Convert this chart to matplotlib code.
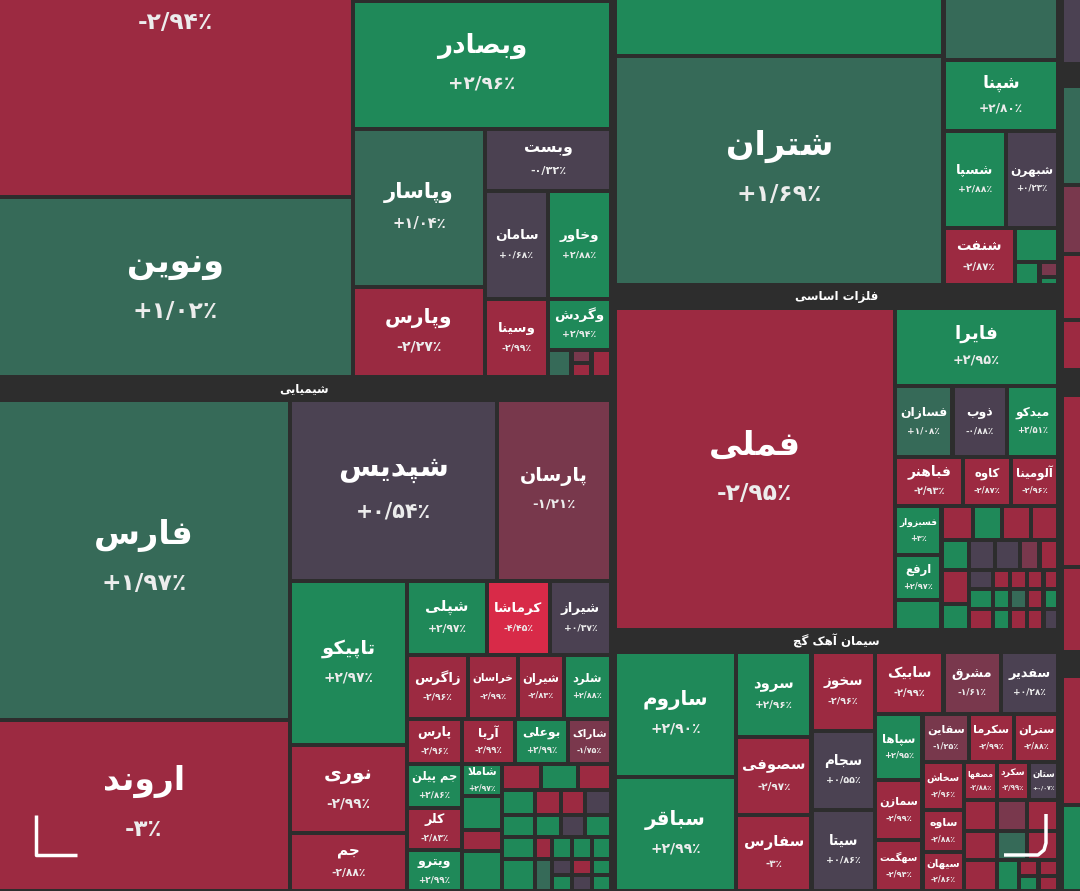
import matplotlib
matplotlib.use("Agg")
import matplotlib.pyplot as plt
from matplotlib.colors import LinearSegmentedColormap, Normalize
from matplotlib.patches import Rectangle

plt.rcParams['font.family'] = ['DejaVu Sans']

# ticker names and daily change (%)
tickers = ['(top)', 'ونوین', 'وبصادر', 'وپاسار', 'وپارس', 'وبست', 'سامان', 'وسینا',
           'وخاور', 'وگردش',
           'فارس', 'اروند', 'شپدیس', 'پارسان', 'تاپیکو', 'نوری', 'جم',
           'شپلی', 'کرماشا', 'شیراز', 'زاگرس', 'خراسان', 'شیران', 'شلرد',
           'پارس', 'آریا', 'بوعلی', 'شاراک', 'جم پیلن', 'کلر', 'ویترو', 'شاملا',
           'شتران', 'شپنا', 'شسپا', 'شبهرن', 'شنفت',
           'فملی', 'فایرا', 'فسازان', 'ذوب', 'میدکو', 'فباهنر', 'کاوه', 'آلومینا',
           'فسبزوار', 'ارفع',
           'ساروم', 'سباقر', 'سرود', 'سصوفی', 'سفارس', 'سخوز', 'سجام', 'سیتا',
           'سابیک', 'مشرق', 'سفدیر', 'سپاها', 'سمازن', 'سهگمت', 'سقاین', 'سکرما',
           'ستران', 'سخاش', 'ساوه', 'سیهان', 'مصفها', 'سکرد', 'ستان']
changes = [-2.94, 1.02, 2.96, 1.04, -2.27, -0.32, 0.68, -2.99,
           2.88, 2.94,
           1.97, -3.0, 0.54, -1.21, 2.97, -2.99, -2.88,
           2.97, -4.45, 0.37, -2.96, -2.99, -2.83, 2.88,
           -2.96, -2.99, 2.99, -1.75, 2.86, -2.83, 2.99, 2.97,
           1.69, 2.80, 2.88, 0.23, -2.87,
           -2.95, 2.95, 1.08, -0.88, 2.51, -2.93, -2.87, -2.96,
           3.0, 2.97,
           2.90, 2.99, 2.96, -2.97, -3.0, -2.96, 0.55, 0.86,
           -2.99, -1.61, 0.28, 2.95, -2.99, -2.94, -1.25, -2.99,
           -2.88, -2.96, -2.88, -2.86, -2.88, -2.99, 0.07]
change_of = dict(zip(tickers, changes))

# unlabeled small cells: representative change per colour code
filler = {'r': -2.9, 'g': 2.9, 'k': 0.3, 'm': -1.5, 'd': 1.5}

# colour scale (change % -> colour)
stops = [(-5.0, '#e8254c'), (-4.4, '#d62a48'), (-3.0, '#9c2a41'), (-2.1, '#9a2a41'),
         (-1.9, '#7a384d'), (-1.1, '#78384c'), (-0.95, '#4b4051'), (0.9, '#4b4252'),
         (1.0, '#366a58'), (2.0, '#366a58'), (2.4, '#1f8959'), (3.0, '#1f8959'),
         (5.0, '#16a05e')]
norm = Normalize(-5, 5)
cmap = LinearSegmentedColormap.from_list('market', [(norm(v), c) for v, c in stops])


def H(*kids):
    return ('H', kids)


def V(*kids):
    return ('V', kids)


def P(left, right, child):
    # extra horizontal inset around a block of sectors
    return ('P', (left, right, child))


# treemap structure: (relative size, child)
bank = H((355, V((397, '(top)'), (180, 'ونوین'))),
         (258, V((201, 'g'), (128, 'وبصادر'),
                 (248, H((132, V((158, 'وپاسار'), (90, 'وپارس'))),
                         (126, V((62, 'وبست'),
                                 (186, H((63, V((108, 'سامان'), (78, 'وسینا'))),
                                         (63, V((108, 'وخاور'), (51, 'وگردش'),
                                                (27, H((23, 'd'), (20, V((13, 'm'), (14, 'r'))),
                                                       (19, 'r'))))))))))))))

row1 = H((80, 'شپلی'), (63, 'کرماشا'), (61, 'شیراز'))
row2 = H((61, 'زاگرس'), (50, 'خراسان'), (46, 'شیران'), (47, 'شلرد'))
row3 = H((55, 'پارس'), (53, 'آریا'), (53, 'بوعلی'), (43, 'شاراک'))
cA = V((44, 'جم پیلن'), (42, 'کلر'), (41, 'ویترو'))
cB = V((32, 'شاملا'), (34, 'g'), (21, 'r'), (40, 'g'))
cC = V((26, H((39, 'r'), (37, 'g'), (33, 'r'))),
       (25, H((33, 'g'), (26, 'r'), (24, 'r'), (26, 'k'))),
       (22, H((33, 'g'), (26, 'g'), (24, 'k'), (26, 'g'))),
       (22, H((33, 'g'), (17, 'r'), (20, 'g'), (20, 'g'), (19, 'g'))),
       (32, H((33, 'g'), (17, 'd'), (20, V((16, 'k'), (16, 'g'))),
              (20, V((16, 'r'), (16, 'k'))), (19, V((16, 'g'), (16, 'g'))))))
chem = H((292, V((320, 'فارس'), (171, 'اروند'))),
         (321, V((181, H((207, 'شپدیس'), (114, 'پارسان'))),
                 (310, H((117, V((164, 'تاپیکو'), (88, 'نوری'), (58, 'جم'))),
                         (204, V((74, row1), (64, row2), (45, row3),
                                 (127, H((55, cA), (40, cB), (109, cC))))))))))

oil = H((331, V((256, 'g'), (229, 'شتران'))),
        (116, V((260, 'd'), (71, 'شپنا'), (97, H((63, 'شسپا'), (53, 'شبهرن'))),
                (57, H((72, 'شنفت'),
                       (44, V((34, 'g'), (23, H((25, 'g'), (19, V((15, 'm'), (8, 'g'))))))))))))

met_small = V((34, H((32, 'r'), (29, 'g'), (29, 'r'), (28, 'r'))),
              (30, H((28, 'g'), (26, 'k'), (25, 'k'), (20, 'm'), (19, 'r'))),
              (60, H((28, V((34, 'r'), (26, 'g'))),
                     (90, V((19, H((24, 'k'), (17, 'r'), (17, 'r'), (17, 'r'), (15, 'r'))),
                            (20, H((24, 'g'), (17, 'g'), (17, 'd'), (17, 'r'), (15, 'g'))),
                            (21, H((24, 'r'), (17, 'g'), (17, 'r'), (17, 'r'), (15, 'k'))))))))
metals = H((282, 'فملی'),
           (165, V((78, 'فایرا'),
                   (71, H((58, 'فسازان'), (55, 'ذوب'), (52, 'میدکو'))),
                   (49, H((69, 'فباهنر'), (48, 'کاوه'), (48, 'آلومینا'))),
                   (124, H((47, V((49, 'فسبزوار'), (45, 'ارفع'), (30, 'g'))),
                           (118, met_small))))))

cem_grid = V((31, H((33, 'r'), (30, 'm'), (32, 'r'))),
             (29, H((33, 'r'), (30, 'd'), (32, 'r'))),
             (31, H((33, 'r'), (22, 'g'), (20, V((16, 'r'), (15, 'g'))), (20, V((16, 'r'), (15, 'r'))))))
cement = H((122, V((125, 'ساروم'), (114, 'سباقر'))),
           (76, V((85, 'سرود'), (78, 'سصوفی'), (76, 'سفارس'))),
           (64, V((79, 'سخوز'), (79, 'سجام'), (81, 'سیتا'))),
           (185, V((62, H((69, 'سابیک'), (58, 'مشرق'), (58, 'سفدیر'))),
                   (177, H((48, V((66, 'سپاها'), (60, 'سمازن'), (51, 'سهگمت'))),
                           (137, V((48, H((47, 'سقاین'), (45, 'سکرما'), (45, 'ستران'))),
                                   (129, H((42, V((48, 'سخاش'), (42, 'ساوه'), (39, 'سیهان'))),
                                           (95, V((38, H((33, 'مصفها'), (32, 'سکرد'), (30, 'ستان'))),
                                                  (91, cem_grid))))))))))))

strip = V((264, 'k'), (22, '#'), (99, 'd'), (69, 'm'), (66, 'r'), (50, 'r'), (25, '#'),
          (172, 'r'), (85, 'r'), (24, '#'), (129, 'r'), (86, 'g'))

tree = H((613, P(-2.2, 2, V((577, bank), (23, '#شیمیایی'), (491, chem)))),
         (447, P(2, 1.5, V((485, oil), (23, '#فلزات اساسی'), (322, metals),
                           (22, '#سیمان آهک گچ'), (239, cement)))),
         (20, P(1.5, -4, strip)))

# --- minimal Persian shaping (matplotlib has no text shaping) ---
FORMS = {
    'ا': ('\uFE8D', '\uFE8E', None, None), 'آ': ('\uFE81', '\uFE82', None, None),
    'ب': ('\uFE8F', '\uFE90', '\uFE91', '\uFE92'), 'پ': ('\uFB56', '\uFB57', '\uFB58', '\uFB59'),
    'ت': ('\uFE95', '\uFE96', '\uFE97', '\uFE98'), 'ج': ('\uFE9D', '\uFE9E', '\uFE9F', '\uFEA0'),
    'چ': ('\uFB7A', '\uFB7B', '\uFB7C', '\uFB7D'), 'خ': ('\uFEA5', '\uFEA6', '\uFEA7', '\uFEA8'),
    'د': ('\uFEA9', '\uFEAA', None, None), 'ذ': ('\uFEAB', '\uFEAC', None, None),
    'ر': ('\uFEAD', '\uFEAE', None, None), 'ز': ('\uFEAF', '\uFEB0', None, None),
    'س': ('\uFEB1', '\uFEB2', '\uFEB3', '\uFEB4'), 'ش': ('\uFEB5', '\uFEB6', '\uFEB7', '\uFEB8'),
    'ص': ('\uFEB9', '\uFEBA', '\uFEBB', '\uFEBC'), 'ع': ('\uFEC9', '\uFECA', '\uFECB', '\uFECC'),
    'ف': ('\uFED1', '\uFED2', '\uFED3', '\uFED4'), 'ق': ('\uFED5', '\uFED6', '\uFED7', '\uFED8'),
    'ک': ('\uFB8E', '\uFB8F', '\uFB90', '\uFB91'), 'گ': ('\uFB92', '\uFB93', '\uFB94', '\uFB95'),
    'ل': ('\uFEDD', '\uFEDE', '\uFEDF', '\uFEE0'), 'م': ('\uFEE1', '\uFEE2', '\uFEE3', '\uFEE4'),
    'ن': ('\uFEE5', '\uFEE6', '\uFEE7', '\uFEE8'), 'ه': ('\uFEE9', '\uFEEA', '\uFEEB', '\uFEEC'),
    'و': ('\uFEED', '\uFEEE', None, None), 'ی': ('\uFBFC', '\uFBFD', '\uFBFE', '\uFBFF'),
}
LAM_ALEF = {'ا': ('\uFEFB', '\uFEFC'), 'آ': ('\uFEF5', '\uFEF6')}


def shape(word):
    ch = list(word)
    n = len(ch)

    def joins_prev(i):
        return i > 0 and ch[i] in FORMS and ch[i - 1] in FORMS and FORMS[ch[i - 1]][2] is not None

    def joins_next(i):
        return i + 1 < n and ch[i] in FORMS and FORMS[ch[i]][2] is not None and ch[i + 1] in FORMS

    out = []
    i = 0
    while i < n:
        c = ch[i]
        if c == 'ل' and i + 1 < n and ch[i + 1] in LAM_ALEF:
            iso, fin = LAM_ALEF[ch[i + 1]]
            out.append(fin if joins_prev(i) else iso)
            i += 2
            continue
        if c not in FORMS:
            out.append(c)
            i += 1
            continue
        iso, fin, ini, med = FORMS[c]
        p, q = joins_prev(i), joins_next(i)
        out.append(med if p and q else fin if p else ini if q else iso)
        i += 1
    return ''.join(reversed(out))


FA_DIGITS = str.maketrans('0123456789', '۰۱۲۳۴۵۶۷۸۹')


def fmt_change(v):
    sign = '+' if v >= 0 else '-'
    a = abs(v)
    s = str(int(round(a))) if abs(a - round(a)) < 1e-9 else f'{a:.2f}'.replace('.', '/')
    return sign + s.translate(FA_DIGITS) + '٪'


def layout(node, x, y, w, h, out):
    if isinstance(node, tuple):
        kind, kids = node
        if kind == 'P':
            left, right, child = kids
            layout(child, x + left, y, w - left - right, h, out)
            return
        total = sum(s for s, _ in kids)
        pos = x if kind == 'H' else y
        for s, kid in kids:
            if kind == 'H':
                ext = w * s / total
                layout(kid, pos, y, ext, h, out)
            else:
                ext = h * s / total
                layout(kid, x, pos, w, ext, out)
            pos += ext
    else:
        out.append((node, x, y, w, h))


W, Hh = 1080, 891
TOP = -200  # the screenshot is a crop: the treemap continues above the view
bg = '#2d2d2d'
fig = plt.figure(figsize=(W / 100, Hh / 100), dpi=100, facecolor=bg)
ax = fig.add_axes([0, 0, 1, 1])
ax.set_facecolor(bg)
ax.set_xlim(0, W)
ax.set_ylim(Hh, 0)
ax.axis('off')

cells = []
layout(tree, 0, TOP, W, Hh - TOP, cells)

renderer = fig.canvas.get_renderer()
pad = 2.2
for key, x, y, w, h in cells:
    if key.startswith('#'):
        if key[1:]:
            ax.text(x + w / 2, y + h / 2, shape(key[1:]), color='white', fontsize=8.5,
                    fontweight='bold', ha='center', va='center')
        continue
    val = filler[key] if key in filler else change_of[key]
    ax.add_patch(Rectangle((x + pad, y + pad), w - 2 * pad, h - 2 * pad,
                           facecolor=cmap(norm(val)), edgecolor='none'))
    if key in filler:
        continue
    cw, ch_ = w - 2 * pad, h - 2 * pad
    cx, cy = x + w / 2, y + h / 2
    s = min(cw, 1.4 * ch_)
    fs = min(5 + 0.08 * s, 24)
    fs_px = fs * 100 / 72
    pct = ax.text(cx, cy + 0.72 * fs_px, fmt_change(val), color='#ececec',
                  fontsize=fs * 0.7, fontweight='bold', ha='center', va='center', clip_on=True)
    if not key.startswith('('):
        t = ax.text(cx, cy - 0.72 * fs_px, shape(key), color='white', fontsize=fs,
                    fontweight='bold', ha='center', va='center', clip_on=True)
        tw = t.get_window_extent(renderer).width
        if tw > 0.9 * cw:
            t.set_fontsize(fs * 0.9 * cw / tw)
    pw = pct.get_window_extent(renderer).width
    if pw > 0.9 * cw:
        pct.set_fontsize(fs * 0.7 * 0.9 * cw / pw)

# corner logo marks
ax.plot([36, 36, 77], [815, 855, 855], color='white', lw=2.5, solid_capstyle='butt')
ax.plot([1046, 1046, 1044, 1038, 1004], [814, 843, 850, 855, 855], color='white', lw=2.5,
        solid_capstyle='butt', solid_joinstyle='round')

fig.savefig('out.png', dpi=100, facecolor=bg)
